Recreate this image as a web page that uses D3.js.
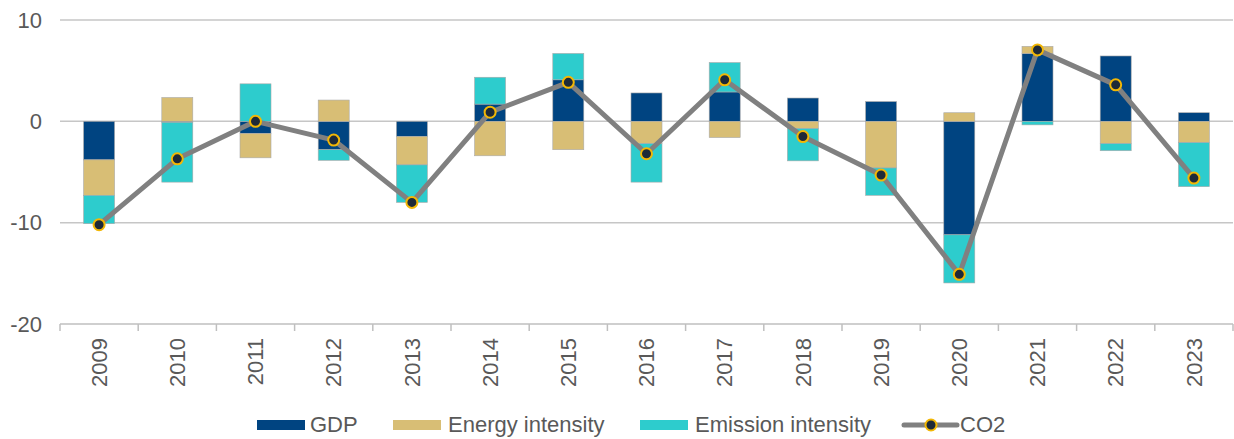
<!DOCTYPE html>
<html><head><meta charset="utf-8">
<script src="https://cdn.jsdelivr.net/npm/d3@7"></script>
<style>
html,body{margin:0;padding:0;background:#fff;}
svg{display:block;}
text{font-family:"Liberation Sans",Arial,sans-serif;fill:#595959;}
</style></head>
<body>
<svg id="chart" width="1234" height="439"></svg>
<script>
const years = ["2009","2010","2011","2012","2013","2014","2015","2016","2017","2018","2019","2020","2021","2022","2023"];
const gdp      = [-3.8, -0.1, -1.2, -2.8, -1.5, 1.7, 4.1, 2.8, 2.9, 2.3, 1.95, -11.2, 6.7, 6.45, 0.85];
const energy   = [-3.5, 2.35, -2.4, 2.1, -2.8, -3.4, -2.8, -2.2, -1.6, -0.7, -4.6, 0.85, 0.7, -2.2, -2.1];
const emission = [-2.8, -5.9, 3.7, -1.05, -3.7, 2.65, 2.6, -3.8, 2.9, -3.2, -2.7, -4.75, -0.35, -0.7, -4.35];
const co2      = [-10.2, -3.7, 0.0, -1.85, -8.0, 0.9, 3.85, -3.2, 4.1, -1.5, -5.3, -15.1, 7.05, 3.6, -5.6];
const yTicks = [10, 0, -10, -20];
const seriesNames = ["GDP","Energy intensity","Emission intensity"];
const lineName = "CO2";

const colors = {"GDP":"#004481","Energy intensity":"#D8BE75","Emission intensity":"#2DCCCD"};

const svg = d3.select("#chart");
const pL = 60, pR = 1233, pT = 20, pB = 324;

const x = d3.scaleBand().domain(years).range([pL, pR]).paddingInner(0.6).paddingOuter(0.3);
const y = d3.scaleLinear().domain([-20, 10]).range([pB, pT]);

// gridlines
svg.append("g").selectAll("line").data(yTicks.filter(d => d !== -20)).join("line")
  .attr("x1", pL).attr("x2", pR)
  .attr("y1", d => y(d)).attr("y2", d => y(d))
  .attr("stroke", "#C6C6C6").attr("stroke-width", 1.5);

// y labels
svg.append("g").selectAll("text").data(yTicks).join("text")
  .attr("x", 42).attr("y", d => y(d)).attr("dy", "0.35em")
  .attr("text-anchor", "end").attr("font-size", 22).text(d => d);

// stacked bars
const table = years.map((yr, i) => ({year: yr, "GDP": gdp[i], "Energy intensity": energy[i], "Emission intensity": emission[i]}));
const stack = d3.stack().keys(seriesNames).offset(d3.stackOffsetDiverging);
const layers = stack(table);

const bw = 31;
svg.append("g").selectAll("g").data(layers).join("g")
  .attr("fill", d => colors[d.key])
  .selectAll("rect").data(d => d).join("rect")
  .attr("x", d => x(d.data.year) + x.bandwidth()/2 - bw/2)
  .attr("width", bw)
  .attr("y", d => y(Math.max(d[0], d[1])))
  .attr("height", d => Math.abs(y(d[0]) - y(d[1])))
  .attr("stroke", "#A9A9A9").attr("stroke-width", 0.6);

// x axis
const xa = svg.append("g");
xa.append("line").attr("x1", pL).attr("x2", pR).attr("y1", pB).attr("y2", pB)
  .attr("stroke", "#BFBFBF").attr("stroke-width", 1.5);
const step = (pR - pL) / years.length;
xa.selectAll("line.tick").data(d3.range(years.length + 1)).join("line").attr("class", "tick")
  .attr("x1", i => pL + i * step).attr("x2", i => pL + i * step)
  .attr("y1", pB).attr("y2", pB + 7)
  .attr("stroke", "#BFBFBF").attr("stroke-width", 1.5);
xa.selectAll("text").data(years).join("text")
  .attr("transform", d => `translate(${x(d) + x.bandwidth()/2},338) rotate(-90)`)
  .attr("text-anchor", "end").attr("dy", "0.35em").attr("font-size", 22).text(d => d);

// CO2 line
const cx = i => x(years[i]) + x.bandwidth()/2;
const line = d3.line().x((d, i) => cx(i)).y(d => y(d));
svg.append("path").datum(co2).attr("d", line)
  .attr("fill", "none").attr("stroke", "#808080").attr("stroke-width", 5).attr("stroke-linejoin", "round");
svg.append("g").selectAll("circle").data(co2).join("circle")
  .attr("cx", (d, i) => cx(i)).attr("cy", d => y(d)).attr("r", 5.5)
  .attr("fill", "#1E2A38").attr("stroke", "#F2B705").attr("stroke-width", 2);

// legend
const lg = svg.append("g");
const legendItems = [
  {name: "GDP", sx: 257, tx: 310},
  {name: "Energy intensity", sx: 393, tx: 448},
  {name: "Emission intensity", sx: 640, tx: 695}
];
legendItems.forEach(it => {
  lg.append("rect").attr("x", it.sx).attr("y", 420).attr("width", 48).attr("height", 10).attr("fill", colors[it.name]);
  lg.append("text").attr("x", it.tx).attr("y", 432).attr("font-size", 22).text(it.name);
});
lg.append("line").attr("x1", 904).attr("x2", 957).attr("y1", 425).attr("y2", 425)
  .attr("stroke", "#808080").attr("stroke-width", 5).attr("stroke-linecap", "round");
lg.append("circle").attr("cx", 931).attr("cy", 425).attr("r", 5.5)
  .attr("fill", "#1E2A38").attr("stroke", "#F2B705").attr("stroke-width", 2);
lg.append("text").attr("x", 960).attr("y", 432).attr("font-size", 22).text(lineName);
</script>
</body></html>
